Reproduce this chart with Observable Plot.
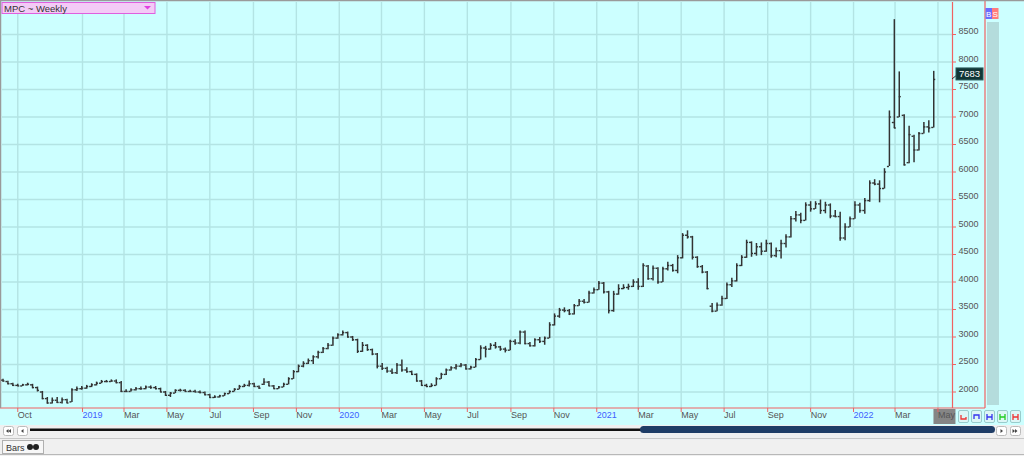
<!DOCTYPE html>
<html><head><meta charset="utf-8">
<script src="https://cdn.jsdelivr.net/npm/d3@7"></script>
<script src="https://cdn.jsdelivr.net/npm/@observablehq/plot@0.6"></script>
<style>
html,body{margin:0;padding:0;background:#ccffff;overflow:hidden}
svg{display:block}
</style></head><body><div id="chart"></div>
<script>
const titleText = "MPC ~ Weekly";
const firstWeek = "2018-09-10";
const open = [
2215,2190,2150,2120,2110,2130,2130,2080,2000,1880,
1800,1850,1810,1860,1820,2040,2060,2070,2100,2130,
2160,2190,2190,2200,2170,2010,2010,2040,2060,2060,
2090,2080,2060,2000,1940,1980,2030,2030,2010,2010,
2000,1990,1950,1900,1910,1930,1970,2010,2050,2100,
2120,2150,2100,2140,2180,2110,2060,2090,2140,2240,
2370,2470,2520,2570,2640,2720,2790,2850,2980,3040,
3080,3000,2950,2740,2850,2770,2690,2470,2430,2380,
2350,2490,2400,2370,2320,2200,2120,2100,2120,2240,
2320,2400,2440,2470,2490,2420,2450,2590,2800,2780,
2850,2820,2780,2760,2920,2890,3090,2880,2840,2950,
2920,2980,3220,3380,3490,3480,3420,3570,3650,3630,
3800,3860,3980,3820,3480,3780,3880,3900,3920,4000,
3920,4290,4060,4250,4000,4240,4300,4210,4440,4850,
4820,4450,4280,4180,3560,3470,3580,3700,3950,4020,
4300,4450,4720,4520,4640,4560,4700,4480,4570,4700,
4820,5150,5220,5120,5400,5330,5420,5300,5400,5200,
5190,4800,5000,5150,5400,5300,5480,5800,5780,5700,
6100,6900,7000,7030,6170,6650,6400,6700,6820,6810];
const high = [
2230,2195,2160,2140,2140,2160,2140,2090,2010,1900,
1890,1900,1890,1870,2060,2090,2100,2120,2150,2180,
2210,2210,2220,2220,2190,2040,2060,2080,2090,2110,
2110,2100,2070,2010,1990,2040,2050,2040,2030,2030,
2020,2000,1960,1930,1940,1980,2020,2060,2120,2140,
2200,2160,2110,2240,2190,2120,2100,2160,2260,2390,
2490,2550,2600,2660,2740,2810,2880,3000,3060,3110,
3090,3010,2960,2900,2860,2780,2700,2520,2450,2420,
2520,2580,2440,2380,2330,2210,2140,2150,2260,2340,
2420,2460,2500,2520,2500,2470,2610,2840,2830,2880,
2900,2830,2800,2940,2950,3110,3110,2900,2970,2990,
3000,3260,3420,3520,3530,3500,3590,3680,3680,3830,
3890,4010,3990,3830,3830,3950,3950,3960,4040,4060,
4330,4300,4290,4260,4270,4360,4320,4480,4880,4930,
4830,4460,4300,4190,3610,3620,3740,3980,4070,4330,
4480,4760,4730,4700,4710,4760,4710,4620,4760,4860,
5190,5280,5250,5440,5460,5460,5490,5450,5420,5300,
5270,5060,5180,5460,5430,5520,5840,5860,5840,6060,
7110,8770,7820,7040,6830,6670,6720,6900,6930,7830];
const low = [
2180,2130,2100,2100,2100,2110,2060,2000,1860,1780,
1780,1790,1780,1790,1810,2010,2030,2050,2080,2110,
2150,2170,2180,2150,1990,1990,2000,2020,2030,2040,
2050,2040,1990,1920,1900,1970,2000,2000,1990,1990,
1970,1930,1880,1880,1890,1920,1960,2000,2040,2080,
2090,2080,2050,2120,2100,2050,2050,2080,2130,2230,
2350,2440,2500,2500,2600,2700,2770,2830,2960,3020,
2980,2920,2700,2720,2740,2660,2420,2390,2340,2320,
2320,2360,2340,2300,2180,2100,2080,2080,2110,2230,
2300,2380,2400,2440,2400,2400,2440,2580,2620,2760,
2780,2740,2710,2750,2850,2860,2860,2820,2820,2880,
2850,2970,3200,3340,3440,3390,3400,3560,3600,3620,
3780,3850,3780,3420,3450,3760,3860,3850,3900,3850,
3900,4030,4020,3960,3990,4200,4180,4150,4420,4780,
4400,4250,4150,3860,3440,3460,3560,3680,3900,4000,
4280,4430,4450,4470,4480,4540,4430,4440,4420,4620,
4800,5090,5060,5110,5270,5320,5230,5240,5150,5170,
4740,4750,4990,5140,5250,5230,5450,5750,5440,5690,
6100,6790,6990,6110,6150,6170,6380,6690,6710,6800];
const close = [
2200,2150,2120,2110,2130,2140,2080,2030,1880,1800,
1850,1810,1860,1800,2040,2060,2070,2100,2130,2160,
2190,2190,2200,2170,2010,2010,2040,2060,2060,2090,
2080,2060,2000,1940,1980,2030,2030,2010,2010,2000,
1990,1950,1900,1910,1930,1970,2010,2050,2100,2120,
2150,2100,2070,2180,2110,2060,2090,2140,2240,2370,
2470,2520,2570,2640,2720,2790,2850,2980,3040,3080,
3000,2950,2740,2850,2770,2690,2470,2430,2380,2350,
2490,2400,2370,2320,2200,2120,2100,2120,2240,2320,
2400,2440,2470,2490,2420,2450,2590,2800,2780,2850,
2820,2780,2760,2920,2890,3090,2880,2840,2950,2920,
2980,3220,3380,3490,3480,3420,3570,3650,3630,3800,
3860,3980,3820,3480,3780,3880,3900,3920,4000,3920,
4300,4060,4250,4000,4240,4300,4210,4440,4850,4820,
4450,4280,4180,3880,3470,3580,3700,3950,4020,4300,
4450,4720,4520,4640,4560,4700,4480,4570,4700,4820,
5150,5220,5120,5400,5330,5420,5300,5400,5200,5190,
4800,5000,5150,5400,5300,5480,5800,5780,5700,6000,
7000,6800,7370,6130,6680,6400,6700,6820,6800,7683];
const yTicks = [2000,2500,3000,3500,4000,4500,5000,5500,6000,6500,7000,7500,8000,8500];
const xTickDates = ["2018-10-01","2019-01-01","2019-03-01","2019-05-01","2019-07-01","2019-09-01","2019-11-01",
  "2020-01-01","2020-03-01","2020-05-01","2020-07-01","2020-09-01","2020-11-01",
  "2021-01-01","2021-03-01","2021-05-01","2021-07-01","2021-09-01","2021-11-01",
  "2022-01-01","2022-03-01","2022-05-01"];
const xTickLabels = ["Oct","2019","Mar","May","Jul","Sep","Nov","2020","Mar","May","Jul","Sep","Nov",
  "2021","Mar","May","Jul","Sep","Nov","2022","Mar","May"];
const xDomain = [new Date("2018-09-09T07:00:00Z"), new Date("2022-05-21T16:00:00Z")];
const yDomain = [1700, 9082];
const lastLabel = "7683";

const t0 = new Date(firstWeek + "T00:00:00Z");
const bars = open.map((o, i) => ({date: d3.utcDay.offset(t0, 7 * i), open: o, high: high[i], low: low[i], close: close[i]}));
const tickDates = xTickDates.map(s => new Date(s + "T00:00:00Z"));
const ticks = tickDates.map((d, i) => ({date: d, label: xTickLabels[i], isYear: /^\d{4}$/.test(xTickLabels[i])}));

const red = "#f06262", grid = "#b3e4e4", barColor = "#333", FONT = "'Liberation Sans', Arial, sans-serif";

const chart = Plot.plot({
  width: 1024, height: 456,
  marginLeft: 2, marginRight: 72, marginTop: 2, marginBottom: 48,
  style: {background: "#ccffff", fontFamily: FONT, fontSize: "9px", overflow: "visible"},
  x: {type: "utc", domain: xDomain},
  y: {domain: yDomain},
  marks: [
    Plot.gridY(yTicks, {stroke: grid, strokeOpacity: 1, strokeWidth: 1.4}),
    Plot.gridX(tickDates, {stroke: grid, strokeOpacity: 1, strokeWidth: 1.4}),
    Plot.ruleX(bars, {x: "date", y1: "low", y2: "high", stroke: barColor, strokeWidth: 1.5}),
    Plot.ruleY(bars, {y: "open", x1: d => d3.utcHour.offset(d.date, -68), x2: "date", stroke: barColor, strokeWidth: 1.4}),
    Plot.ruleY(bars, {y: "close", x1: "date", x2: d => d3.utcHour.offset(d.date, 68), stroke: barColor, strokeWidth: 1.4}),
    Plot.ruleX([xDomain[1]], {stroke: red, strokeWidth: 1.2}),
    Plot.axisY(yTicks, {anchor: "right", tickSize: 3, stroke: red, tickFormat: () => "", label: null}),
    Plot.text(yTicks, {y: d => d, text: d => String(d), frameAnchor: "right", dx: 6, dy: -3, textAnchor: "start", fill: "#555"}),
    Plot.axisX(tickDates, {anchor: "bottom", tickSize: 4, stroke: red, tickFormat: () => "", label: null}),
    Plot.text(ticks.filter(d => !d.isYear), {x: "date", text: "label", frameAnchor: "bottom", dy: 9, textAnchor: "start", fill: "#555"}),
    Plot.text(ticks.filter(d => d.isYear), {x: "date", text: "label", frameAnchor: "bottom", dy: 9, textAnchor: "start", fill: "#4060ff"})
  ]
});
document.getElementById("chart").appendChild(chart);

const svg = d3.select(chart);
const xS = chart.scale("x"), yS = chart.scale("y");

// highlight box behind the current month label
const lastTickX = xS.apply(tickDates[tickDates.length - 1]);
svg.insert("rect", ":first-child").attr("x", lastTickX - 4).attr("y", 409).attr("width", 22).attr("height", 15).attr("fill", "#858585");

const ui = svg.append("g").attr("font-family", FONT);
const R = (x, y, w, h, fill, stroke, rx) => ui.append("rect").attr("x", x).attr("y", y).attr("width", w).attr("height", h)
  .attr("fill", fill).attr("stroke", stroke || "none").attr("rx", rx || 0);
const L = (x1, y1, x2, y2, stroke, w) => ui.append("line").attr("x1", x1).attr("y1", y1).attr("x2", x2).attr("y2", y2).attr("stroke", stroke).attr("stroke-width", w || 1);
const T = (x, y, s, fill, size, anchor) => ui.append("text").attr("x", x).attr("y", y).text(s).attr("fill", fill).attr("font-size", size || 9).attr("text-anchor", anchor || "start");

// frame borders
const xRight = xS.apply(xDomain[1]), yBottom = yS.apply(yDomain[0]);
L(0, yBottom, 985, yBottom, red, 1.2);
L(985, 0, 985, yBottom, red, 1.2);
L(0, 0.5, 1024, 0.5, "#9a9a9a", 1.5);
L(0.5, 0, 0.5, yBottom, "#9a9a9a", 1.5);
// right strip
R(987, 22, 12, 383, "#b4dcdc");
R(985.5, 8, 6.5, 11, "#6b6bff"); T(988.7, 16.5, "B", "#fff", 8, "middle");
R(992, 8, 6.5, 11, "#ff7b7b"); T(995.2, 16.5, "S", "#fff", 8, "middle");

// title box
R(2, 2.5, 153, 11, "#f3cbf6", "#df5fdf");
T(4, 11.5, titleText, "#333", 9.5);
ui.append("path").attr("d", "M144,6 L151,6 L147.5,9.5 Z").attr("fill", "#e040e0");

// last price label
const cy = yS.apply(close[close.length - 1]);
L(xRight, cy, xRight + 5, cy - 4, "#333", 1);
R(956, cy - 11, 27, 12, "#113636", "#2a5a5a");
T(969.5, cy - 2, lastLabel, "#fff", 9.5, "middle");

// tool buttons
const btnX = [958, 971, 984, 997, 1010];
const btnCol = ["#e33", "#33e", "#33e", "#2c2", "#e33"];
const glyph = ["M2.5,4 v4 h5 v-2", "M2.5,8 v-4 h5 v4", "M2.5,3 v6 M7.5,3 v6 M2.5,6 h5", "M2.5,3 v6 M7.5,3 v6 M2.5,6 h5", "M2.5,3 v6 M7.5,3 v6 M2.5,6 h5"];
btnX.forEach((x, i) => {
  R(x + 0.5, 410.5, 10, 12, "#dcf6f6", "#9cc", 1.5);
  ui.append("path").attr("transform", `translate(${x + 0.5},411)`).attr("d", glyph[i]).attr("stroke", btnCol[i]).attr("stroke-width", 1.3).attr("fill", "none");
});

// scroll row
R(0, 425, 1024, 31, "#f0f0f0");
[3, 17].forEach((x, k) => {
  R(x + 0.5, 426.5, 10, 9, "#fff", "#bbb", 2);
  if (k === 0) ui.append("path").attr("d", `M${x+3},431 l2.5,-2 v4 Z M${x+5.5},431 l2.5,-2 v4 Z`).attr("fill", "#444");
  else ui.append("path").attr("d", `M${x+4},431 l2.5,-2 v4 Z`).attr("fill", "#444");
});
L(30, 429.8, 642, 429.8, "#111", 2.6);
R(640, 426, 355, 7, "#1f3d66", null, 3.5);
[996, 1010].forEach((x, k) => {
  R(x + 0.5, 426.5, 10, 9, "#fff", "#bbb", 2);
  if (k === 0) ui.append("path").attr("d", `M${x+7},431 l-2.5,-2 v4 Z`).attr("fill", "#444");
  else ui.append("path").attr("d", `M${x+5},431 l-2.5,-2 v4 Z M${x+7.5},431 l-2.5,-2 v4 Z`).attr("fill", "#444");
});

// bottom tab row
L(0, 438.5, 1024, 438.5, "#c8c8c8", 1);
L(0, 454.5, 1024, 454.5, "#b8b8b8", 1);
R(2.5, 440.5, 41, 13, "#f7f7f7", "#b0b0b0");
T(6, 450.5, "Bars", "#333", 9);
ui.append("circle").attr("cx", 30).attr("cy", 447).attr("r", 3).attr("fill", "#222");
ui.append("circle").attr("cx", 36).attr("cy", 447).attr("r", 3).attr("fill", "#222");
</script></body></html>
